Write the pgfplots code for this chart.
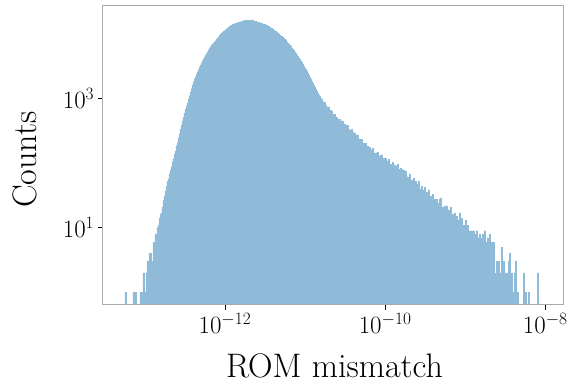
\documentclass[border=0pt]{standalone}
\usepackage{pgfplots}
\usepackage{pgfplotstable}
\pgfplotsset{compat=1.18}
\definecolor{barblue}{RGB}{143,187,217}
\definecolor{framegray}{RGB}{170,170,170}
% left bin edge (log10 of ROM mismatch) and counts; 0.01 marks empty bins
\pgfplotstableread{
logx count
-13.2500 1
-13.2375 0.01
-13.1500 1
-13.1375 0.01
-13.1250 1
-13.1125 0.01
-13.0625 1
-13.0500 1
-13.0375 1
-13.0250 2
-13.0125 1
-13.0000 1
-12.9875 2
-12.9750 3
-12.9625 2
-12.9500 4
-12.9375 4
-12.9250 3
-12.9125 2
-12.9000 6
-12.8875 6
-12.8750 8
-12.8625 7
-12.8500 10
-12.8375 11
-12.8250 14
-12.8125 16
-12.8000 17
-12.7875 21
-12.7750 27
-12.7625 31
-12.7500 37
-12.7375 44
-12.7250 52
-12.7125 57
-12.7000 69
-12.6875 77
-12.6750 88
-12.6625 106
-12.6500 117
-12.6375 137
-12.6250 154
-12.6125 186
-12.6000 208
-12.5875 247
-12.5750 288
-12.5625 333
-12.5500 386
-12.5375 452
-12.5250 518
-12.5125 597
-12.5000 684
-12.4875 762
-12.4750 853
-12.4625 975
-12.4500 1104
-12.4375 1258
-12.4250 1432
-12.4125 1620
-12.4000 1820
-12.3875 1990
-12.3750 2170
-12.3625 2370
-12.3500 2580
-12.3375 2820
-12.3250 3050
-12.3125 3300
-12.3000 3560
-12.2875 3850
-12.2750 4170
-12.2625 4430
-12.2500 4710
-12.2375 5010
-12.2250 5330
-12.2125 5660
-12.2000 6030
-12.1875 6350
-12.1750 6710
-12.1625 7080
-12.1500 7360
-12.1375 7640
-12.1250 7940
-12.1125 8320
-12.1000 8710
-12.0875 9120
-12.0750 9550
-12.0625 10000
-12.0500 10330
-12.0375 10670
-12.0250 11020
-12.0125 11380
-12.0000 11760
-11.9875 12150
-11.9750 12590
-11.9625 12880
-11.9500 13180
-11.9375 13490
-11.9250 13800
-11.9125 14130
-11.9000 14450
-11.8875 14620
-11.8750 14790
-11.8625 14960
-11.8500 15140
-11.8375 15310
-11.8250 15490
-11.8125 15670
-11.8000 15850
-11.7875 16030
-11.7750 16220
-11.7625 16330
-11.7500 16440
-11.7375 16520
-11.7250 16600
-11.7125 16580
-11.7000 16550
-11.6875 16500
-11.6750 16450
-11.6625 16400
-11.6500 16220
-11.6375 16030
-11.6250 15850
-11.6125 15670
-11.6000 15490
-11.5875 15310
-11.5750 15140
-11.5625 14960
-11.5500 14790
-11.5375 14620
-11.5250 14390
-11.5125 14160
-11.5000 13930
-11.4875 13710
-11.4750 13490
-11.4625 13180
-11.4500 12880
-11.4375 12590
-11.4250 12300
-11.4125 12020
-11.4000 11700
-11.3875 11380
-11.3750 11070
-11.3625 10770
-11.3500 10470
-11.3375 10140
-11.3250 9820
-11.3125 9510
-11.3000 9200
-11.2875 8910
-11.2750 8590
-11.2625 8280
-11.2500 7980
-11.2375 7690
-11.2250 7410
-11.2125 7080
-11.2000 6760
-11.1875 6460
-11.1750 6170
-11.1625 5890
-11.1500 5620
-11.1375 5330
-11.1250 5060
-11.1125 4800
-11.1000 4560
-11.0875 4330
-11.0750 4100
-11.0625 3890
-11.0500 3660
-11.0375 3440
-11.0250 3230
-11.0125 3030
-11.0000 2850
-10.9875 2670
-10.9750 2510
-10.9625 2340
-10.9500 2170
-10.9375 2020
-10.9250 1880
-10.9125 1750
-10.9000 1620
-10.8875 1510
-10.8750 1410
-10.8625 1320
-10.8500 1230
-10.8375 1150
-10.8250 1080
-10.8125 1010
-10.8000 979
-10.7875 874
-10.7750 899
-10.7625 884
-10.7500 794
-10.7375 745
-10.7250 746
-10.7125 738
-10.7000 634
-10.6875 659
-10.6750 640
-10.6625 572
-10.6500 557
-10.6375 574
-10.6250 501
-10.6125 523
-10.6000 486
-10.5875 446
-10.5750 482
-10.5625 449
-10.5500 417
-10.5375 457
-10.5250 398
-10.5125 405
-10.5000 359
-10.4875 387
-10.4750 386
-10.4625 339
-10.4500 321
-10.4375 325
-10.4250 338
-10.4125 299
-10.4000 265
-10.3875 296
-10.3750 275
-10.3625 245
-10.3500 277
-10.3375 236
-10.3250 222
-10.3125 233
-10.3000 233
-10.2875 191
-10.2750 204
-10.2625 193
-10.2500 205
-10.2375 158
-10.2250 182
-10.2125 162
-10.2000 177
-10.1875 145
-10.1750 162
-10.1625 170
-10.1500 139
-10.1375 146
-10.1250 128
-10.1125 146
-10.1000 147
-10.0875 129
-10.0750 114
-10.0625 132
-10.0500 136
-10.0375 110
-10.0250 119
-10.0125 96
-10.0000 120
-9.9875 107
-9.9750 98
-9.9625 116
-9.9500 88
-9.9375 98
-9.9250 90
-9.9125 103
-9.9000 78
-9.8875 94
-9.8750 89
-9.8625 78
-9.8500 97
-9.8375 80
-9.8250 71
-9.8125 85
-9.8000 81
-9.7875 61
-9.7750 78
-9.7625 67
-9.7500 76
-9.7375 58
-9.7250 62
-9.7125 49
-9.7000 69
-9.6875 51
-9.6750 55
-9.6625 46
-9.6500 58
-9.6375 39
-9.6250 52
-9.6125 48
-9.6000 40
-9.5875 53
-9.5750 40
-9.5625 34
-9.5500 44
-9.5375 38
-9.5250 26
-9.5125 42
-9.5000 30
-9.4875 36
-9.4750 31
-9.4625 39
-9.4500 25
-9.4375 31
-9.4250 24
-9.4125 33
-9.4000 19
-9.3875 28
-9.3750 24
-9.3625 28
-9.3500 16
-9.3375 24
-9.3250 28
-9.3125 29
-9.3000 17
-9.2875 21
-9.2750 15
-9.2625 22
-9.2500 16
-9.2375 22
-9.2250 13
-9.2125 19
-9.2000 15
-9.1875 21
-9.1750 10
-9.1625 16
-9.1500 12
-9.1375 17
-9.1250 9
-9.1125 15
-9.1000 13
-9.0875 8
-9.0750 17
-9.0625 10
-9.0500 14
-9.0375 8
-9.0250 11
-9.0125 5
-9.0000 13
-8.9875 8
-8.9750 11
-8.9625 5
-8.9500 9
-8.9375 6
-8.9250 9
-8.9125 6
-8.9000 9
-8.8875 8
-8.8750 7
-8.8625 9
-8.8500 6
-8.8375 7
-8.8250 8
-8.8125 7
-8.8000 6
-8.7875 8
-8.7750 4
-8.7625 9
-8.7500 6
-8.7375 3
-8.7250 7
-8.7125 5
-8.7000 8
-8.6875 3
-8.6750 6
-8.6625 4
-8.6500 6
-8.6375 2
-8.6250 1
-8.6125 3
-8.6000 1
-8.5875 3
-8.5750 2
-8.5625 0.01
-8.5500 5
-8.5375 0.01
-8.5250 3
-8.5125 1
-8.5000 2
-8.4875 2
-8.4750 0.01
-8.4625 3
-8.4500 4
-8.4375 0.01
-8.4250 2
-8.4125 1
-8.4000 0.01
-8.3875 2
-8.3750 3
-8.3625 0.01
-8.3500 1
-8.3375 0.01
-8.2750 2
-8.2625 0.01
-8.2500 1
-8.2375 0.01
-8.2125 1
-8.2000 0.01
-8.1000 2
-8.0875 0.01
}\histdata
\begin{document}
\begin{tikzpicture}
\begin{axis}[
  scale only axis,
  width=460.6pt, height=299pt,
  xmin=-13.527, xmax=-7.775,
  ymode=log, ymin=0.64, ymax=27700,
  log origin=infty,
  axis on top,
  axis line style={framegray, line width=0.8pt},
  xtick={-12,-10,-8},
  xticklabels={$10^{-12}$,$10^{-10}$,$10^{-8}$},
  ytick={10,1000},
  yticklabels={$10^{1}$,$10^{3}$},
  xminorticks=false, yminorticks=false,
  tick align=outside,
  xtick pos=bottom, ytick pos=left,
  major tick length=5pt,
  tick style={black, line width=0.8pt},
  ticklabel style={font=\fontsize{25.5}{25.5}\selectfont},
  label style={font=\fontsize{34}{34}\selectfont},
  xlabel={ROM mismatch},
  ylabel={Counts},
  xlabel style={at={(axis description cs:0.5033,-0.2441)}, anchor=base},
  ylabel style={at={(axis description cs:-0.1448,0.4856)}, anchor=base},
]
\addplot[ybar interval, fill=barblue, draw=barblue, line width=0.15pt]
  table[x=logx, y=count] {\histdata};
\end{axis}
\pgfresetboundingbox
\path (current axis.south west) ++(-102.7pt,-80.3pt) rectangle ([xshift=23.7pt,yshift=5.7pt]current axis.north east);
\end{tikzpicture}
\end{document}
